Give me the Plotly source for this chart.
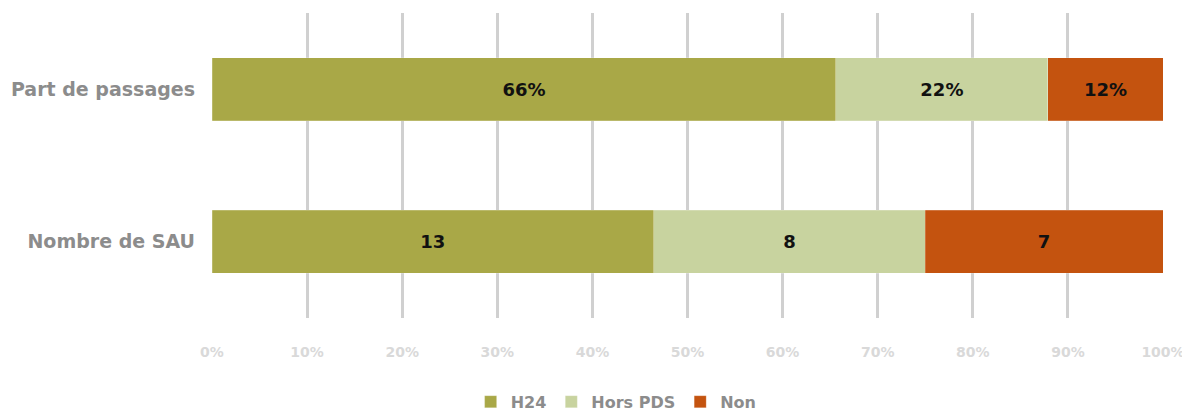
import plotly.graph_objects as go

# Data
categories = ["Nombre de SAU", "Part de passages"]
series = ["H24", "Hors PDS", "Non"]
sau_counts = [13, 8, 7]
passage_shares = [65.6, 22.3, 12.1]
passage_labels = ["66%", "22%", "12%"]
colors = {"H24": "#a9a847", "Hors PDS": "#c8d39f", "Non": "#c4530f"}

sau_total = sum(sau_counts)
sau_shares = [c / sau_total * 100 for c in sau_counts]

FONT = "DejaVu Sans"

fig = go.Figure()
for i, name in enumerate(series):
    fig.add_trace(go.Bar(
        name=name,
        y=categories,
        x=[sau_shares[i], passage_shares[i]],
        orientation="h",
        marker=dict(color=colors[name], line=dict(width=0.5, color="rgba(255,255,255,0.4)")),
        text=[str(sau_counts[i]), passage_labels[i]],
        textposition="inside",
        insidetextanchor="middle",
        textfont=dict(family=FONT, size=18, color="#111111", weight="bold"),
        hoverinfo="skip",
    ))

# the page body adds 8px around the figure, so the sizes are trimmed by that
fig.update_layout(
    barmode="stack",
    bargap=0.59,
    width=1174,
    height=406,
    margin=dict(l=204, r=19, t=5, b=96, autoexpand=False),
    plot_bgcolor="white",
    paper_bgcolor="white",
    font=dict(family=FONT),
    legend=dict(
        orientation="h",
        xref="container", yref="container",
        x=0.518, y=0.03,
        xanchor="center", yanchor="middle",
        font=dict(family=FONT, size=16, color="#8c8c8c", weight="bold"),
        itemwidth=30,
        traceorder="normal",
    ),
    uniformtext=dict(mode="show", minsize=10),
)

fig.update_xaxes(
    range=[0, 100],
    tickvals=list(range(0, 101, 10)),
    ticktext=[f"{v}%" for v in range(0, 101, 10)],
    showgrid=True,
    gridcolor="#d0d0d0",
    gridwidth=2.5,
    zeroline=False,
    showline=False,
    automargin=False,
    ticklabelstandoff=24,
    ticklabeloverflow="allow",
    tickfont=dict(family=FONT, size=14, color="#d9d9d9", weight="bold"),
    fixedrange=True,
)
fig.update_yaxes(
    showgrid=False,
    showline=False,
    automargin=False,
    ticklabelstandoff=16,
    tickfont=dict(family=FONT, size=19, color="#8c8c8c", weight="bold"),
)

fig.write_html("out.html")
